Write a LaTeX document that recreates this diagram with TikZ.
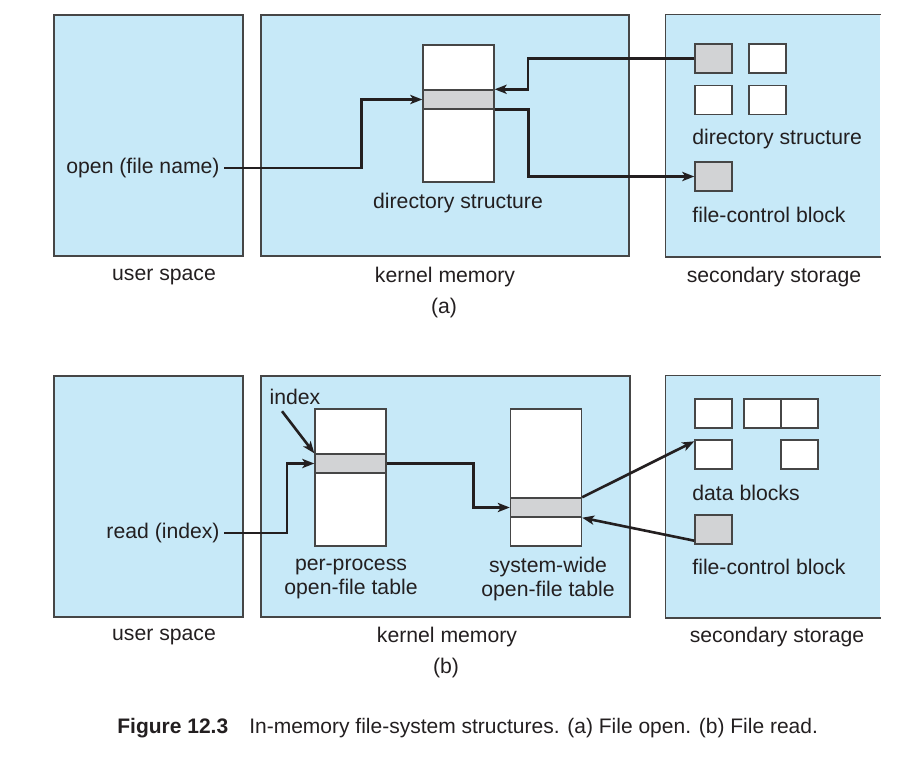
\documentclass[tikz,border=0pt]{standalone}
\usepackage{fontspec}
\setmainfont{Liberation Sans}
\usetikzlibrary{arrows.meta}

\definecolor{areablue}{RGB}{199,233,248}
\definecolor{rowgray}{RGB}{210,211,213}
\definecolor{edgegray}{RGB}{70,70,70}
\definecolor{inkdark}{RGB}{35,31,32}

\begin{document}
\begin{tikzpicture}[x=0.5pt, y=-0.5pt,
  font=\fontsize{10.6}{12}\selectfont, text=inkdark,
  areabox/.style={rectangle, fill=areablue, draw=edgegray, line width=0.75pt, inner sep=0pt, minimum width=#1, minimum height=120.5pt},
  tablebox/.style={rectangle, fill=white, draw=edgegray, line width=0.7pt, inner sep=0pt, minimum width=35.5pt, minimum height=68.5pt},
  rowbox/.style={rectangle, fill=rowgray, draw=edgegray, line width=0.7pt, inner sep=0pt, minimum width=35.5pt, minimum height=9.5pt},
  blk/.style={rectangle, fill=white, draw=edgegray, line width=0.7pt, inner sep=0pt, minimum width=18.5pt, minimum height=14.5pt},
  gblk/.style={blk, fill=rowgray},
  txt/.style={inner sep=2pt, yshift=-1.8pt},
  link/.style={draw=inkdark, line width=1.3pt, -{Stealth[length=6pt,width=4.6pt,inset=1.5pt]}}]
\useasboundingbox (0,0) rectangle (917,762);

% (a) file open
\node[areabox=94.5pt] (usA) at (148.5,135.5) {};
\node[areabox=184pt] (kmA) at (445,135.5) {};
\node[areabox=107pt, draw=none] (ssA) at (773,135.5) {};
\draw[edgegray, line width=0.75pt] (ssA.north east) -- (ssA.north west) -- (ssA.south west) -- (ssA.south east);

\node[tablebox] (dirA) at (458.5,113.5) {};
\node[rowbox] (rowA) at (458.5,99.5) {};
\node[txt] (dirAtxt) at (458,199) {directory structure};

\node[gblk] (dgA) at (713.5,58.5) {};
\node[blk] (dwA) at (767.5,58.5) {};
\node[blk] (dw2A) at (713.5,100) {};
\node[blk] (dw3A) at (767.5,100) {};
\node[txt, anchor=west] (sdirA) at (688,135) {directory structure};
\node[gblk] (fcbA) at (713.5,176.5) {};
\node[txt, anchor=west] (fcbAtxt) at (688,211) {file-control block};

\node[txt, anchor=east, yshift=1.8pt] (openA) at (224,168) {open (file name)};

\draw[link] (openA.east) -- ++(137.5,0) |- (rowA.west);
\draw[link] (dgA.west) -- ++(-166.5,0) |- (rowA.north east);
\draw[link] (rowA.south east) -- ++(34,0) |- (fcbA.west);

\node[txt] (usAtxt) at (164,273) {user space};
\node[txt] (kmAtxt) at (445,273) {kernel memory};
\node[txt] (ssAtxt) at (774,273) {secondary storage};
\node[txt] (partA) at (444,304) {(a)};

% (b) file read
\node[areabox=94.5pt] (usB) at (148.5,496.5) {};
\node[areabox=184.5pt] (kmB) at (445.5,496.5) {};
\node[areabox=107pt, draw=none] (ssB) at (773,496.5) {};
\draw[edgegray, line width=0.75pt] (ssB.north east) -- (ssB.north west) -- (ssB.south west) -- (ssB.south east);

\node[tablebox] (ppt) at (350.5,477.5) {};
\node[rowbox] (ppRow) at (350.5,463.5) {};
\node[txt, align=center] (pptTxt) at (351,575) {per-process\\open-file table};

\node[tablebox] (swt) at (546,477.5) {};
\node[rowbox] (swRow) at (546,507.5) {};
\node[txt, align=center] (swtTxt) at (548,575) {system-wide\\open-file table};

\node[txt, yshift=1.8pt] (idx) at (295,397) {index};
\node[txt, anchor=east, yshift=1.8pt] (readB) at (224,533) {read (index)};

\node[blk] (db1) at (713.5,413.5) {};
\node[blk] (db2) at (762.5,413.5) {};
\node[blk] (db3) at (799.5,413.5) {};
\node[blk] (db4) at (713.5,454.5) {};
\node[blk] (db5) at (799.5,454.5) {};
\node[txt, anchor=west] (dbTxt) at (688,489) {data blocks};
\node[gblk] (fcbB) at (713.5,529.5) {};
\node[txt, anchor=west] (fcbBtxt) at (688,563) {file-control block};

\draw[link] ([xshift=-6.5pt, yshift=-1pt]idx.south) -- (ppRow.north west);
\draw[link] (readB.east) -- ++(63,0) |- (ppRow.west);
\draw[link] (ppRow.east) -- ++(86.5,0) |- (swRow.west);
\draw[link] (swRow.north east) -- ([yshift=-1pt]db4.north west);
\draw[link] ([yshift=2pt]fcbB.south west) -- (swRow.south east);

\node[txt] (usBtxt) at (164,633) {user space};
\node[txt] (kmBtxt) at (447,633) {kernel memory};
\node[txt] (ssBtxt) at (777,633) {secondary storage};
\node[txt] (partB) at (446,664) {(b)};

% caption
\node[txt, anchor=west, font=\fontsize{10.5}{12}\selectfont] (cap) at (113,725) {\textbf{Figure 12.3}\hspace{1em}In-memory file-system structures. (a) File open. (b) File read.};
\end{tikzpicture}
\end{document}
